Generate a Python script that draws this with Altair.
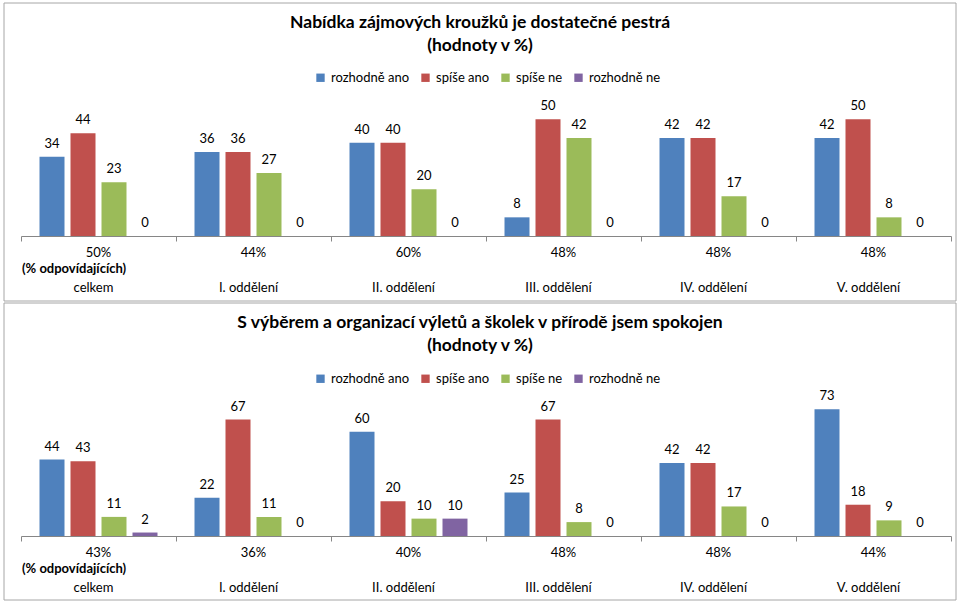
import altair as alt
import pandas as pd

categories = ["celkem", "I. oddělení", "II. oddělení", "III. oddělení", "IV. oddělení", "V. oddělení"]
series = ["rozhodně ano", "spíše ano", "spíše ne", "rozhodně ne"]
colors = ["#4F81BD", "#C0504D", "#9BBB59", "#8064A2"]

title1 = ["Nabídka zájmových kroužků je dostatečné pestrá", "(hodnoty v %)"]
top_ano = [34, 36, 40, 8, 42, 42]
top_spise_ano = [44, 36, 40, 50, 42, 50]
top_spise_ne = [23, 27, 20, 42, 17, 8]
top_ne = [0, 0, 0, 0, 0, 0]
top_pct = ["50%", "44%", "60%", "48%", "48%", "48%"]

title2 = ["S výběrem a organizací výletů a školek v přírodě jsem spokojen", "(hodnoty v %)"]
bot_ano = [44, 22, 60, 25, 42, 73]
bot_spise_ano = [43, 67, 20, 67, 42, 18]
bot_spise_ne = [11, 11, 10, 8, 17, 9]
bot_ne = [2, 0, 10, 0, 0, 0]
bot_pct = ["43%", "36%", "40%", "48%", "48%", "44%"]

resp_note = "(% odpovídajících)"

FONT = "Lato"
W = 930


def long_df(vals):
    rows = []
    for s, arr in zip(series, vals):
        for c, v in zip(categories, arr):
            rows.append({"cat": c, "series": s, "value": v})
    return pd.DataFrame(rows)


def panel(vals, pct, title, ymax, h, border):
    df = long_df(vals)
    xenc = alt.X("cat:N", sort=categories,
                 scale=alt.Scale(paddingInner=0, paddingOuter=0),
                 axis=alt.Axis(title=None, labels=False, ticks=True, tickBand="extent",
                               tickSize=5, tickColor="#868686", domainColor="#868686",
                               grid=False))
    xoff = alt.XOffset("series:N", sort=series,
                       scale=alt.Scale(paddingInner=0.1935, paddingOuter=0.597))
    yenc = alt.Y("value:Q", scale=alt.Scale(domain=[0, ymax]), axis=None)

    bars = alt.Chart(df).mark_bar().encode(
        x=xenc, xOffset=xoff, y=yenc,
        color=alt.Color("series:N", sort=series,
                        scale=alt.Scale(domain=series, range=colors),
                        legend=alt.Legend(title=None, orient="none", direction="horizontal",
                                          legendX=293, legendY=-25, symbolType="square",
                                          symbolSize=70, symbolStrokeWidth=0,
                                          labelFontSize=13, labelFont=FONT, labelColor="#000",
                                          columnPadding=9, symbolOffset=0, labelOffset=4)),
    )
    labels = alt.Chart(df).mark_text(dy=-13, baseline="middle", fontSize=13,
                                     font=FONT, color="#000").encode(
        x=alt.X("cat:N", sort=categories), xOffset=xoff, y=yenc,
        text="value:Q")

    cdf = pd.DataFrame({"cat": categories, "pct": pct})
    pct_t = alt.Chart(cdf).mark_text(baseline="middle", fontSize=13, font=FONT,
                                     color="#000").encode(
        x=alt.X("cat:N", sort=categories), y=alt.value(h + 17), text="pct:N")
    cat_t = alt.Chart(cdf).mark_text(baseline="middle", fontSize=13, font=FONT,
                                     color="#000", dx=-5).encode(
        x=alt.X("cat:N", sort=categories), y=alt.value(h + 52), text="cat:N")
    ndf = pd.DataFrame({"cat": [categories[0]], "t": [resp_note]})
    note_t = alt.Chart(ndf).mark_text(baseline="middle", align="left", fontSize=13,
                                      font=FONT, fontWeight="bold", color="#000",
                                      dx=1).encode(
        x=alt.X("cat:N", sort=categories, bandPosition=0), y=alt.value(h + 33), text="t:N")

    tdf = pd.DataFrame({"t": [title[0]]})
    t1 = alt.Chart(tdf).mark_text(baseline="middle", fontSize=17.5, font=FONT,
                                  fontWeight="bold", color="#000").encode(
        x=alt.value(459), y=alt.value(border[0] + 20), text="t:N")
    tdf2 = pd.DataFrame({"t": [title[1]]})
    t2 = alt.Chart(tdf2).mark_text(baseline="middle", fontSize=17.5, font=FONT,
                                   fontWeight="bold", color="#000").encode(
        x=alt.value(459), y=alt.value(border[0] + 43), text="t:N")

    bdf = pd.DataFrame({"a": [0]})
    frame = alt.Chart(bdf).mark_rect(fill=None, stroke="#A6A6A6", strokeWidth=1).encode(
        x=alt.value(-17), x2=alt.value(935), y=alt.value(border[0]), y2=alt.value(border[1]))

    return alt.layer(frame, bars, labels, pct_t, cat_t, note_t, t1, t2).properties(
        width=W, height=h)


top = panel([top_ano, top_spise_ano, top_spise_ne, top_ne], top_pct, title1, 60, 140, (-93, 205))
bottom = panel([bot_ano, bot_spise_ano, bot_spise_ne, bot_ne], bot_pct, title2, 80, 139, (-94, 203))

chart = alt.vconcat(top, bottom, spacing=0).properties(
    padding={"left": 3, "top": 2, "right": 0, "bottom": 0}
).resolve_scale(color="independent").configure(font=FONT).configure_view(strokeWidth=0)

chart.save("out.html", embed_options={"renderer": "svg", "actions": False})
